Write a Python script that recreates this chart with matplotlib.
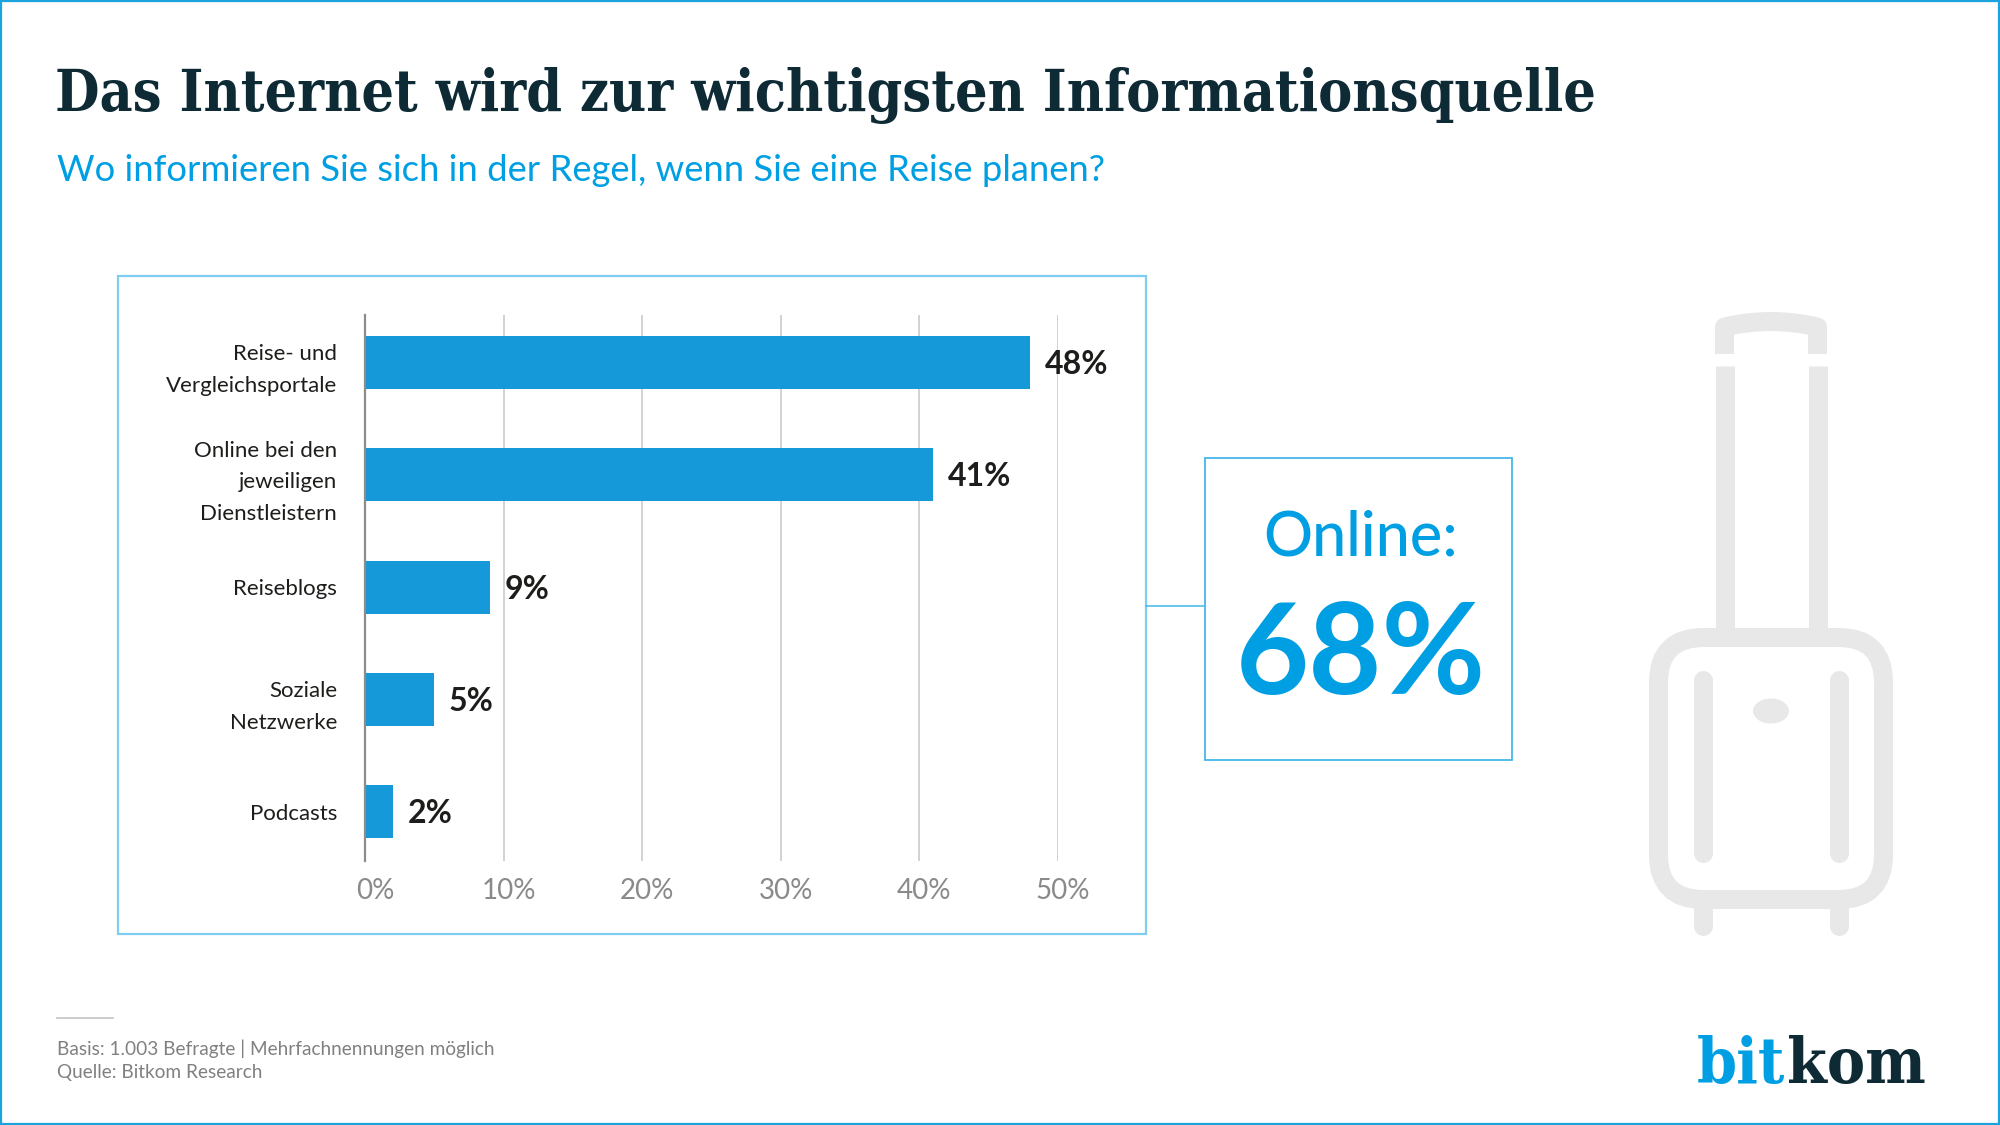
import matplotlib
matplotlib.use("Agg")
import matplotlib.pyplot as plt
from matplotlib.patches import FancyBboxPatch, Ellipse, Rectangle, PathPatch
from matplotlib.path import Path
from matplotlib.transforms import ScaledTranslation

categories = ["Reise- und\nVergleichsportale", "Online bei den\njeweiligen\nDienstleistern",
              "Reiseblogs", "Soziale\nNetzwerke", "Podcasts"]
values = [48, 41, 9, 5, 2]
ticks = [0, 10, 20, 30, 40, 50]
title = "Das Internet wird zur wichtigsten Informationsquelle"
subtitle = "Wo informieren Sie sich in der Regel, wenn Sie eine Reise planen?"
callout_label = "Online:"
callout_value = "68%"
footer = ["Basis: 1.003 Befragte | Mehrfachnennungen möglich", "Quelle: Bitkom Research"]

W, H = 2000, 1125
BLUE = "#009fe3"; BAR = "#1699d8"; DARK = "#0d2a35"; PANEL = "#7fcdf0"; ICON = "#e8e8e8"
SANS = ["Lato", "Noto Sans", "DejaVu Sans"]
px = 0.72

fig = plt.figure(figsize=(20, 11.25), dpi=100, facecolor="white")
bg = fig.add_axes([0, 0, 1, 1]); bg.set_xlim(0, W); bg.set_ylim(H, 0); bg.axis("off")

# frame, panels
bg.add_patch(Rectangle((1, 1), W-2, H-2, fc="none", ec="#1aa3dc", lw=1.6))
bg.add_patch(Rectangle((118, 276), 1028, 658, fc="white", ec=PANEL, lw=1.6))
bg.add_patch(Rectangle((1204.5, 458), 307.5, 302, fc="white", ec="#45b6e8", lw=1.3))
bg.plot([1146, 1204], [606, 606], color="#45b6e8", lw=1.1)

# chart
L, R, T, B = 365, 1058, 315, 861
ax = fig.add_axes([L/W, 1-B/H, (R-L)/W, (B-T)/H], facecolor="none")
step = 112.3; first = 362.5
ypos = list(range(len(values)))
ax.barh(ypos, values, height=53/step, color=BAR, zorder=3)
ax.set_xlim(0, 50)
ax.set_ylim((B-first)/step, (T-first)/step)
for s in ["top", "right", "bottom"]:
    ax.spines[s].set_visible(False)
ax.spines["left"].set_color("#8c8c8c"); ax.spines["left"].set_linewidth(1.6); ax.spines["left"].set_zorder(4)
ax.set_xticks(ticks); ax.set_xticklabels([f"{t}%" for t in ticks])
ax.xaxis.grid(True, color="#d2d2d2", lw=1.4, zorder=0); ax.set_axisbelow(True)
ax.set_yticks(ypos); ax.set_yticklabels(categories, family=SANS, fontsize=16, color="#1d1d1b", linespacing=1.7, ha="right")
ax.tick_params(axis="y", length=0, pad=20)
ax.tick_params(axis="x", length=0, pad=12, labelsize=20, labelcolor="#8a8a8a")
shift = ScaledTranslation(5/100, 0, fig.dpi_scale_trans)
for i, lab in enumerate(ax.get_xticklabels()):
    lab.set_family(SANS)
    lab.set_transform(lab.get_transform() + (ScaledTranslation(10/100, 0, fig.dpi_scale_trans) if i == 0 else shift))
for v, y in zip(values, ypos):
    ax.annotate(f"{v}%", (v, y), xytext=(10.5, -1.5), textcoords="offset points", va="center", ha="left",
                family=SANS, fontweight="bold", fontsize=23, color="#1d1d1b")

# heading
bg.text(55, 111, title, family="DejaVu Serif", stretch="condensed", fontweight="bold", fontsize=41, color=DARK, va="baseline")
bg.text(57, 181, subtitle, family=SANS, fontsize=26.2, color=BLUE, va="baseline")

# callout
bg.text(1361, 555, callout_label, family=SANS, fontsize=44, fontweight="medium", color=BLUE, ha="center", va="baseline")
bg.text(1361, 694, callout_value, family=SANS, fontweight="bold", fontsize=91, color=BLUE, ha="center", va="baseline")

# footer
bg.plot([57, 113], [1018, 1018], color="#c8c8c8", lw=1.3)
bg.text(57, 1055, footer[0], family=SANS, fontsize=13.7, color="#808080", va="baseline")
bg.text(57, 1078, footer[1], family=SANS, fontsize=13.7, color="#808080", va="baseline")

# logo
bg.text(1697, 1083, "bit", family="DejaVu Serif", stretch="condensed", fontweight="bold", fontsize=46, color=BLUE, va="baseline")
bg.text(1787, 1083, "kom", family="DejaVu Serif", stretch="condensed", fontweight="bold", fontsize=46, color=DARK, va="baseline")

# suitcase icon
sw = 19 * px
bg.add_patch(FancyBboxPatch((1658.5+45, 637.5+45), 225-90, 262-90, boxstyle="round,pad=45,rounding_size=45",
                            fc="none", ec=ICON, lw=sw))
for x in (1724.5, 1817.5):
    bg.plot([x, x], [366, 628], color=ICON, lw=sw, solid_capstyle="butt")
for x in (1703, 1839):
    bg.plot([x, x], [680, 853], color=ICON, lw=sw, solid_capstyle="round")
    bg.plot([x, x], [909, 926], color=ICON, lw=sw, solid_capstyle="round")
bg.add_patch(Ellipse((1771, 711), 36, 25, fc=ICON, ec="none"))
handle = Path([(1724.5, 354), (1724.5, 327), (1771, 316), (1817.5, 327), (1817.5, 354)],
              [Path.MOVETO, Path.LINETO, Path.CURVE3, Path.CURVE3, Path.LINETO])
bg.add_patch(PathPatch(handle, fc="none", ec=ICON, lw=sw, capstyle="butt", joinstyle="round"))

fig.savefig("out.png", dpi=100)
